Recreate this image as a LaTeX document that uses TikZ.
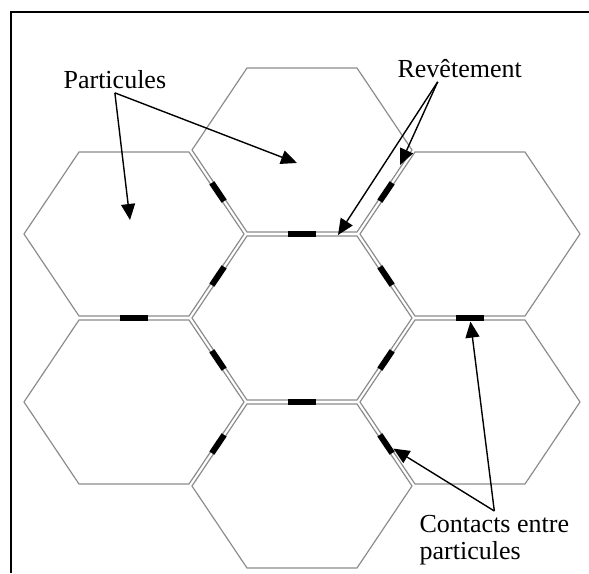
\documentclass[tikz,border=0pt]{standalone}
\usepackage{fontspec}
\setmainfont{Liberation Serif}
\usepackage{tikz}
\usetikzlibrary{arrows.meta,calc}
\tikzset{
  every picture/.style={line width=0.6pt},
  grain/.style={draw=black!45, line width=0.6pt},
  contact/.style={fill=black, inner sep=0pt, minimum width=#1, minimum height=3pt},
  contact/.default=11pt,
  arrow/.style={-{Triangle[length=8pt,width=7pt]}, draw=black, line width=0.7pt},
  note/.style={font=\fontsize{13}{13.5}\selectfont, inner sep=2pt, align=left},
  boxline/.style={draw=black, line width=1.1pt},
}

\begin{document}
\begin{tikzpicture}[x=0.5pt, y=-0.5pt]
  \useasboundingbox (0,0) rectangle (589,573);
  \draw[boxline] (11,573) -- (11,12) -- (589,12);
  % grain centres
  \coordinate (A) at (134,234);
  \coordinate (B) at (302,150);
  \coordinate (C) at (470,234);
  \coordinate (D) at (302,318);
  \coordinate (E) at (134,402);
  \coordinate (F) at (470,402);
  \coordinate (G) at (302,486);
  \foreach \g in {A,B,C,D,E,F,G}
    \draw[grain] (\g) ++(-110,0) -- ++(55,-82) -- ++(110,0) -- ++(55,82) -- ++(-55,82) -- ++(-110,0) -- cycle;
  % contacts
  \foreach \p/\q/\a/\w/\n in {A/B/-56/11/1, A/D/56/11/2, A/E/0/14/3, B/D/0/14/4, B/C/56/11/5, C/D/-56/11/6,
                              C/F/0/14/7, D/F/56/11/8, D/E/-56/11/9, D/G/0/14/10, E/G/56/11/11, F/G/-56/11/12}
    \node[contact=\w pt, rotate=\a] (c\n) at ($(\p)!0.5!(\q)$) {};
  \node[note, anchor=base west] (part) at (59,88) {Particules};
  \node[note, anchor=base west] (rev) at (393,77) {Revêtement};
  \node[note, anchor=north west] (cont) at (415,511) {Contacts entre\\particules};
  \coordinate (inA) at (130,220);
  \coordinate (inB) at (297,163);
  \coordinate (coatBC) at (400,165);
  \coordinate (coatBD) at (338,235);
  \coordinate (revtail) at ([xshift=-11pt]rev.south);
  \draw[arrow] (part.south) -- (inA);
  \draw[arrow] (part.south) -- (inB);
  \draw[arrow] (revtail) -- (coatBC);
  \draw[arrow] (revtail) -- (coatBD);
  \draw[arrow] (cont.north) -- (c7);
  \draw[arrow] (cont.north) -- (c12);
\end{tikzpicture}
\end{document}
